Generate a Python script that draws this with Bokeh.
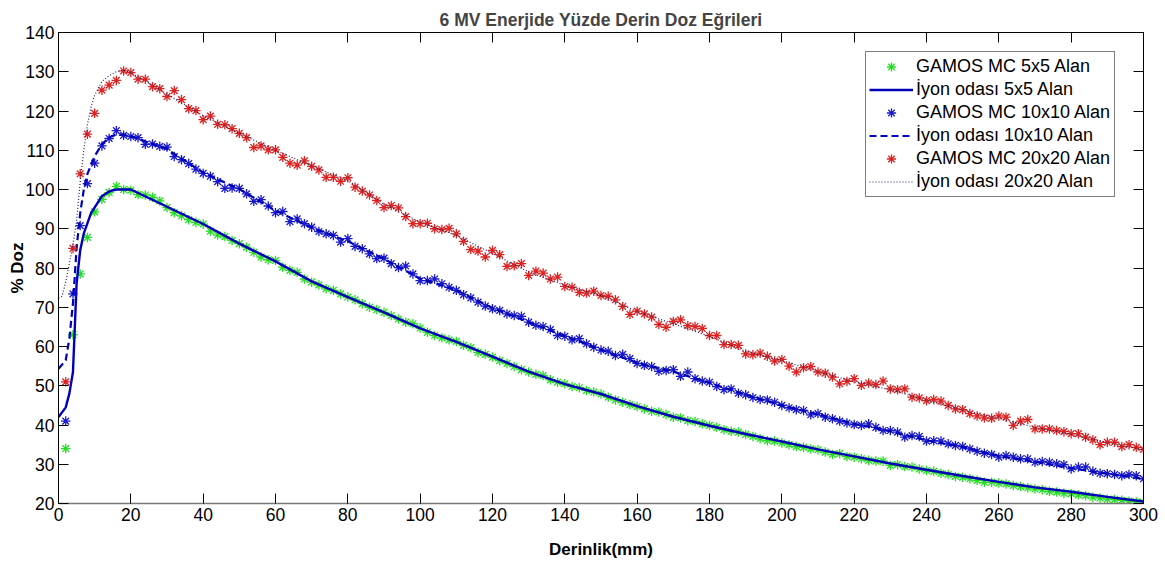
from bokeh.plotting import figure
from bokeh.models import Range1d, LinearAxis, SingleIntervalTicker, Legend, LegendItem
from bokeh.embed import file_html
from bokeh.resources import INLINE

# ---------------- data ----------------
mc_x = list(range(2, 301, 2))

mc5 = [34.0, 63.0, 78.5, 87.8, 94.3, 97.5, 99.2, 100.8, 100.0, 99.8,
       98.7, 98.6, 98.0, 97.1, 95.4, 94.1, 93.3, 92.3, 91.6, 91.2,
       89.4, 88.4, 88.0, 87.0, 86.2, 85.3, 84.0, 82.8, 82.1, 81.9,
       80.2, 79.4, 78.9, 77.2, 76.4, 75.7, 74.7, 74.3, 73.4, 72.6,
       71.9, 70.9, 70.0, 69.4, 68.7, 67.9, 67.0, 66.2, 65.8, 64.7,
       63.6, 62.8, 62.2, 61.7, 61.3, 60.3, 59.7, 58.5, 58.0, 57.3,
       56.4, 55.7, 54.9, 54.1, 53.5, 52.9, 52.6, 51.5, 50.9, 50.5,
       49.8, 49.5, 48.8, 48.4, 47.9, 47.1, 46.4, 45.8, 45.2, 44.7,
       44.1, 43.5, 43.3, 42.7, 42.0, 41.8, 41.1, 40.9, 40.3, 39.9,
       39.4, 38.8, 38.4, 38.2, 37.6, 37.1, 36.5, 36.0, 35.9, 35.4,
       35.0, 34.5, 34.3, 33.9, 33.7, 33.1, 32.5, 32.7, 32.0, 31.8,
       31.4, 31.0, 30.8, 30.8, 29.7, 29.9, 29.4, 29.3, 28.8, 28.4,
       28.2, 27.7, 27.4, 26.9, 26.7, 26.3, 25.9, 25.4, 25.4, 25.2,
       25.0, 24.6, 24.3, 24.0, 23.7, 23.5, 23.1, 22.9, 22.6, 22.5,
       22.2, 22.0, 21.6, 21.4, 21.1, 21.0, 20.8, 20.6, 20.4, 20.3]

mc10 = [41.0, 73.4, 90.8, 101.5, 106.7, 111.1, 113.0, 115.0, 113.8, 113.5,
        113.2, 111.5, 111.6, 111.0, 110.8, 108.4, 107.6, 106.6, 105.2, 104.1,
        103.4, 102.0, 100.3, 100.4, 100.3, 98.9, 97.0, 97.4, 95.8, 94.1,
        94.4, 91.8, 92.5, 91.3, 90.4, 89.3, 88.7, 88.3, 86.6, 87.5,
        85.5, 84.9, 83.6, 82.4, 82.5, 81.1, 80.1, 80.5, 78.5, 76.8,
        76.8, 77.2, 76.0, 75.1, 74.3, 73.2, 72.4, 71.3, 70.3, 69.6,
        69.2, 68.3, 67.9, 67.7, 66.2, 65.4, 65.1, 64.3, 62.8, 62.6,
        61.7, 62.0, 60.7, 59.8, 59.1, 58.8, 57.7, 58.0, 56.9, 55.7,
        55.2, 54.9, 53.7, 53.9, 54.1, 52.4, 53.5, 51.8, 51.2, 50.9,
        49.8, 49.0, 49.2, 48.1, 47.7, 47.0, 46.5, 46.4, 45.8, 45.0,
        44.4, 43.9, 43.7, 42.6, 42.9, 42.0, 41.6, 41.0, 40.5, 40.1,
        39.9, 40.3, 39.4, 38.6, 38.6, 38.2, 36.9, 37.3, 37.1, 35.9,
        36.0, 35.9, 35.2, 34.8, 34.5, 33.9, 33.3, 32.8, 32.5, 31.8,
        32.2, 31.8, 31.4, 31.4, 30.5, 30.7, 30.5, 30.1, 29.9, 28.8,
        29.3, 29.3, 28.2, 27.7, 27.6, 27.4, 27.1, 27.4, 27.1, 26.3]

mc20 = [51.0, 85.0, 104.0, 114.1, 119.4, 125.3, 126.6, 127.8, 130.2, 129.8,
        128.1, 128.1, 126.2, 125.7, 123.7, 125.2, 122.9, 120.6, 120.1, 117.8,
        118.7, 116.6, 116.5, 115.5, 114.3, 113.2, 110.7, 111.1, 110.1, 110.1,
        108.2, 106.7, 106.2, 107.3, 105.9, 105.0, 103.1, 103.1, 102.1, 103.0,
        100.6, 99.6, 98.6, 97.2, 95.4, 95.9, 95.3, 93.1, 91.3, 91.3,
        91.4, 90.0, 89.8, 90.1, 88.7, 86.8, 84.7, 84.3, 82.8, 84.5,
        83.4, 80.4, 80.6, 81.1, 78.1, 79.2, 78.7, 77.2, 77.7, 75.3,
        75.1, 73.8, 73.6, 74.1, 73.0, 72.8, 71.9, 70.2, 68.2, 69.0,
        68.3, 67.5, 65.6, 64.9, 66.4, 66.8, 65.3, 65.1, 64.6, 62.8,
        62.8, 60.5, 60.5, 60.3, 58.1, 57.9, 58.3, 57.5, 56.3, 56.7,
        55.0, 53.5, 54.6, 54.9, 53.5, 53.2, 52.2, 50.5, 51.1, 51.8,
        50.1, 50.7, 50.3, 51.2, 49.2, 49.0, 49.2, 47.1, 46.9, 46.2,
        46.5, 46.1, 45.0, 44.1, 43.9, 42.9, 42.3, 41.8, 41.7, 42.3,
        42.0, 39.9, 41.0, 41.4, 39.0, 39.0, 39.0, 38.6, 38.3, 37.8,
        37.8, 36.9, 36.2, 35.0, 35.6, 35.6, 34.5, 35.0, 34.3, 33.8]

ion_tail_x = list(range(30, 301, 10))

ion5_x = [0, 2, 3, 4, 5, 6, 7, 9, 12, 14, 16, 18, 20] + ion_tail_x
ion5_y = [42.0, 44.5, 48.0, 53.5, 76.0, 84.5, 88.8, 94.0, 98.3, 99.5, 100.0, 100.0, 100.0,
          95.6, 91.2, 86.2, 81.7, 76.6, 72.6, 68.7, 64.6, 61.2, 57.4, 53.6, 50.4,
          47.9, 44.8, 42.1, 39.8, 37.7, 35.8, 33.8, 32.0, 30.2, 28.6, 27.0, 25.5,
          24.1, 23.0, 21.7, 20.5]

ion10_x = [0, 2, 3, 4, 5, 6, 7, 8, 10, 12, 14, 16, 18, 20] + ion_tail_x
ion10_y = [54.3, 56.5, 62.0, 71.0, 85.0, 94.0, 100.0, 104.0, 108.5, 111.5, 113.3, 114.0, 114.0, 113.6,
           110.3, 104.3, 100.1, 94.6, 90.3, 86.8, 82.3, 77.3, 74.3, 69.8, 66.2, 62.7,
           59.2, 55.8, 53.6, 50.7, 47.7, 45.0, 42.7, 40.3, 38.4, 36.1, 34.4, 32.1,
           30.6, 29.0, 27.6, 26.3]

ion20_x = [0, 1, 2, 3, 4, 5, 6, 7, 8, 9, 10, 12, 14, 16, 18, 20] + ion_tail_x
ion20_y = [72.3, 72.8, 76.5, 81.0, 86.0, 92.0, 102.0, 110.0, 116.5, 121.0, 124.0, 127.5, 129.0, 130.0, 130.4, 129.8,
           124.3, 118.8, 114.3, 110.0, 106.0, 102.3, 96.3, 91.7, 88.3, 83.7, 79.0,
           75.6, 73.0, 68.9, 65.8, 62.6, 58.8, 56.4, 53.6, 51.0, 49.0, 46.3, 43.8,
           41.7, 39.4, 37.6, 35.5, 33.7]

labels = ["GAMOS MC 5x5 Alan", "\u0130yon odas\u0131 5x5 Alan",
          "GAMOS MC 10x10 Alan", "\u0130yon odas\u0131 10x10 Alan",
          "GAMOS MC 20x20 Alan", "\u0130yon odas\u0131 20x20 Alan"]

title_text = "6 MV Enerjide Y\u00fczde Derin Doz E\u011frileri"
x_label = "Derinlik(mm)"
y_label = "% Doz"

FONT = "Liberation Sans"

# ---------------- figure ----------------
p = figure(width=1165, height=564, output_backend="svg", toolbar_location=None,
           x_range=Range1d(0, 300), y_range=Range1d(20, 140),
           min_border_left=58, min_border_right=22, min_border_top=32, min_border_bottom=61,
           title=title_text)
p.background_fill_color = "white"
p.border_fill_color = "white"
p.outline_line_color = "#000000"
p.xgrid.visible = False
p.ygrid.visible = False

p.title.text_font = FONT
p.title.text_font_size = "17.5px"
p.title.text_font_style = "bold"
p.title.align = "center"
p.title.vertical_align = "top"
p.title.standoff = 2

xa = p.xaxis[0]
xa.ticker = SingleIntervalTicker(interval=20)
xa.axis_label = x_label
ya = p.yaxis[0]
ya.ticker = SingleIntervalTicker(interval=10)
ya.axis_label = y_label

for ax in (xa, ya):
    ax.major_tick_in = 10
    ax.major_tick_out = 0
    ax.minor_tick_in = 0
    ax.minor_tick_out = 0
    ax.major_tick_line_color = "#000000"
    ax.major_label_text_font = FONT
    ax.major_label_text_font_size = "17.5px"
    ax.major_label_text_color = "#000000"
    ax.axis_label_text_font = FONT
    ax.axis_label_text_font_size = "17px"
    ax.axis_label_text_font_style = "bold"
    ax.axis_label_text_color = "#000000"
    ax.axis_line_color = "#000000"

xa.axis_line_color = "#777777"
xa.axis_line_width = 1.5
xa.major_label_standoff = 4
xa.axis_label_standoff = 16
ya.major_label_standoff = 4
ya.axis_label_standoff = -5

top = LinearAxis(ticker=SingleIntervalTicker(interval=20))
right = LinearAxis(ticker=SingleIntervalTicker(interval=10))
for ax in (top, right):
    ax.major_tick_in = 10
    ax.major_tick_out = 0
    ax.minor_tick_in = 0
    ax.minor_tick_out = 0
    ax.major_label_text_font_size = "0px"
    ax.major_label_text_color = None
    ax.major_label_text_alpha = 0
    ax.major_label_standoff = 0
    ax.axis_line_color = "#000000"
    ax.major_tick_line_color = "#000000"
p.add_layout(top, "above")
p.add_layout(right, "right")

# ---------------- glyphs ----------------
g1 = p.scatter(mc_x, mc5, marker="asterisk", size=9.5, line_color="#22dd22", line_width=1.3)
l1 = p.line(ion5_x, ion5_y, line_color="#0000bb", line_width=2.4)
g2 = p.scatter(mc_x, mc10, marker="asterisk", size=9.5, line_color="#1a1acc", line_width=1.3)
l2 = p.line(ion10_x, ion10_y, line_color="#0000bb", line_width=2.2, line_dash="7 4")
g3 = p.scatter(mc_x, mc20, marker="asterisk", size=9.5, line_color="#dd2222", line_width=1.3)
l3 = p.line(ion20_x, ion20_y, line_color="#202060", line_width=1.2, line_dash="1 2")

legend = Legend(items=[LegendItem(label=labels[0], renderers=[g1]),
                       LegendItem(label=labels[1], renderers=[l1]),
                       LegendItem(label=labels[2], renderers=[g2]),
                       LegendItem(label=labels[3], renderers=[l2]),
                       LegendItem(label=labels[4], renderers=[g3]),
                       LegendItem(label=labels[5], renderers=[l3])],
                location=(807, 306))
legend.label_text_font = FONT
legend.label_text_font_size = "18px"
legend.label_text_color = "#000000"
legend.padding = 3
legend.spacing = 0
legend.margin = 0
legend.glyph_width = 44
legend.glyph_height = 23
legend.label_height = 23
legend.label_width = 195
legend.label_standoff = 3
legend.border_line_color = "#000000"
legend.border_line_width = 1
legend.background_fill_color = "white"
legend.background_fill_alpha = 1.0
p.add_layout(legend)

open("out.html", "w").write(file_html(p, INLINE))
